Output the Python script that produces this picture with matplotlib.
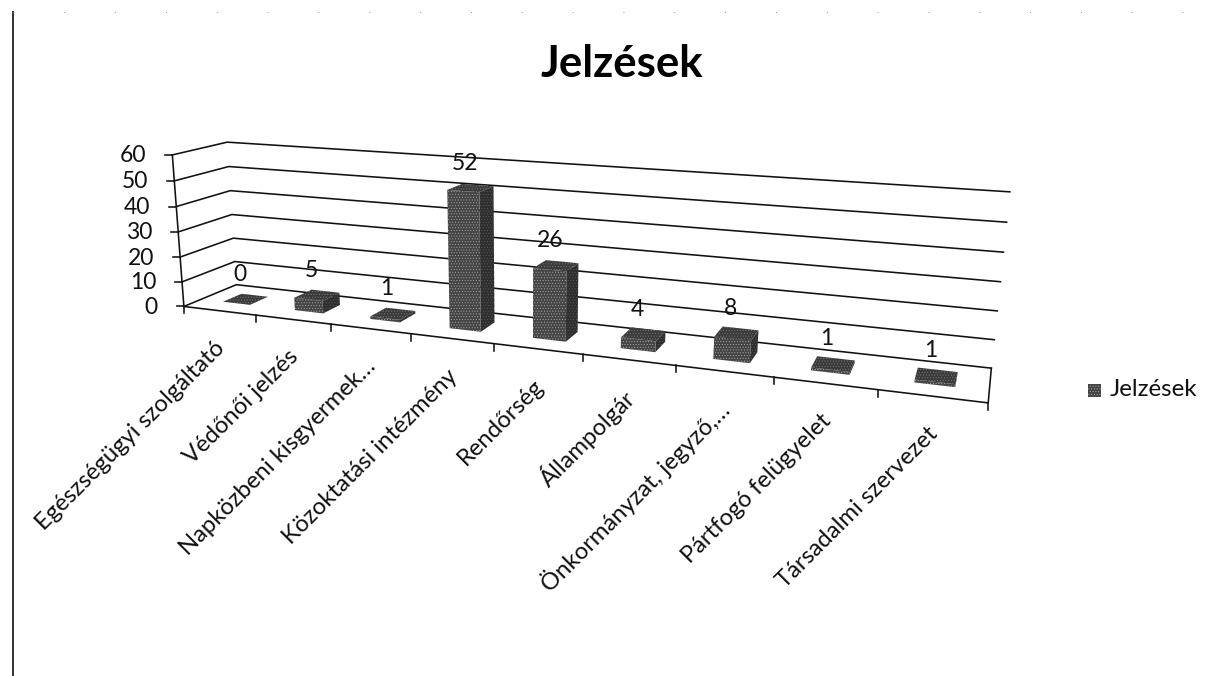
import numpy as np
import matplotlib
matplotlib.use("Agg")
import matplotlib.pyplot as plt
from matplotlib.patches import Polygon, Rectangle

# ---------- DATA ----------
categories = [
    "Egészségügyi szolgáltató",
    "Védőnői jelzés",
    "Napközbeni kisgyermek…",
    "Közoktatási intézmény",
    "Rendőrség",
    "Állampolgár",
    "Önkormányzat, jegyző,…",
    "Pártfogó felügyelet",
    "Társadalmi szervezet",
]
values = [0, 5, 1, 52, 26, 4, 8, 1, 1]
y_ticks = [0, 10, 20, 30, 40, 50, 60]
series_name = "Jelzések"

# ---------- 3D BOX CALIBRATION ----------
# (category position, depth, value) -> picture pixel, used to fit the camera
WORLD = [(0, 0, 0), (0, 0, 60), (0, 1, 0), (0, 1, 60), (9, 1, 0), (9, 1, 60),
         (9, 0, 0), (4, 0, 0), (0, 0, 30), (9, 1, 30), (0, 1, 30)]
PIXEL = [(186, 306), (172, 154), (235, 284), (228, 143), (992, 367), (1010, 192),
         (988, 402), (494, 347), (177, 231), (1000, 282), (232, 215)]
BAR_WIDTH = 0.38
BAR_FRONT, BAR_BACK = 0.32, 0.68
FONT = "Lato"
LW = 1.15


def fit_camera():
    rows = []
    for (u, d, v), (px, py) in zip(WORLD, PIXEL):
        w = np.array([u / 9, d, v / 60, 1.0])
        px, py = px / 1000, py / 1000
        rows.append(np.r_[w, np.zeros(4), -px * w])
        rows.append(np.r_[np.zeros(4), w, -py * w])
    _, _, vt = np.linalg.svd(np.array(rows))
    return vt[-1].reshape(3, 4)


CAM = fit_camera()


def project(u, d, v):
    p = CAM @ np.array([u / 9, d, v / 60, 1.0])
    return p[0] / p[2] * 1000, p[1] / p[2] * 1000


def draw_box(ax):
    for tick in y_ticks:
        pts = [project(0, 0, tick), project(0, 1, tick), project(9, 1, tick)]
        ax.plot(*zip(*pts), color="#111111", lw=LW, zorder=1)
        a = project(0, 0, tick)
        ax.plot([a[0] - 7, a[0]], [a[1], a[1]], color="#111111", lw=LW, zorder=1)
        ax.text(a[0] - 26, a[1] + 1, str(tick), ha="right", va="center",
                fontsize=16.5, family=FONT, color="#111111")
    # axis line, floor edges
    ax.plot(*zip(project(0, 0, 0), project(0, 0, 60)), color="#111111", lw=LW, zorder=1)
    ax.plot(*zip(project(0, 0, 0), project(9, 0, 0), project(9, 1, 0)), color="#111111", lw=LW, zorder=1)
    for i in range(len(categories) + 1):
        a = project(i, 0, 0)
        ax.plot([a[0], a[0]], [a[1], a[1] + 7], color="#111111", lw=LW, zorder=1)


def draw_bar(ax, i, value):
    left, right = i + 0.5 - BAR_WIDTH / 2, i + 0.5 + BAR_WIDTH / 2
    side = [project(right, BAR_FRONT, 0), project(right, BAR_BACK, 0),
            project(right, BAR_BACK, value), project(right, BAR_FRONT, value)]
    front = [project(left, BAR_FRONT, 0), project(right, BAR_FRONT, 0),
             project(right, BAR_FRONT, value), project(left, BAR_FRONT, value)]
    top = [project(left, BAR_FRONT, value), project(right, BAR_FRONT, value),
           project(right, BAR_BACK, value), project(left, BAR_BACK, value)]
    for pts, col, hatch_col in [(side, "#2e2e2e", "#5a5a5a"),
                                (front, "#444444", "#a8a8a8"),
                                (top, "#3a3a3a", "#7c7c7c")]:
        ax.add_patch(Polygon(pts, closed=True, facecolor=col, edgecolor=hatch_col,
                             hatch="......", lw=0, zorder=3))
    cx, cy = project(i + 0.5, 0.5, value)
    ax.text(cx - 6, cy - 25, str(value), ha="center", va="center", fontsize=16.5,
            family=FONT, color="#111111", zorder=5)


def main():
    plt.rcParams["hatch.linewidth"] = 0.4
    fig = plt.figure(figsize=(12.18, 6.76), dpi=100, facecolor="white")
    ax = fig.add_axes([0, 0, 1, 1])
    ax.set_xlim(0, 1218)
    ax.set_ylim(676, 0)
    ax.axis("off")

    # edge of the scanned chart frame
    ax.plot([13, 13], [12, 676], color="#222222", lw=1.3)
    ax.plot([13, 1218], [12, 12], color="#777777", lw=0.6, linestyle=(0, (1, 60)))

    draw_box(ax)
    for i, value in enumerate(values):
        draw_bar(ax, i, value)

    for i, label in enumerate(categories):
        x, y = project(i + 0.5, 0, 0)
        ax.text(x + 2, y + 34, label, rotation=45, rotation_mode="anchor", ha="right",
                va="center", fontsize=17.2, family=FONT, color="#111111")

    ax.text(622, 64, series_name, ha="center", va="center", fontsize=31.5,
            fontweight="bold", family=FONT, color="#000000")

    ax.add_patch(Rectangle((1088, 384), 13, 13, facecolor="#444444", edgecolor="#a8a8a8",
                           hatch="......", lw=0))
    ax.text(1110, 390, series_name, ha="left", va="center", fontsize=17.4,
            family=FONT, color="#111111")

    fig.savefig("out.png", dpi=100, facecolor="white")


if __name__ == "__main__":
    main()
